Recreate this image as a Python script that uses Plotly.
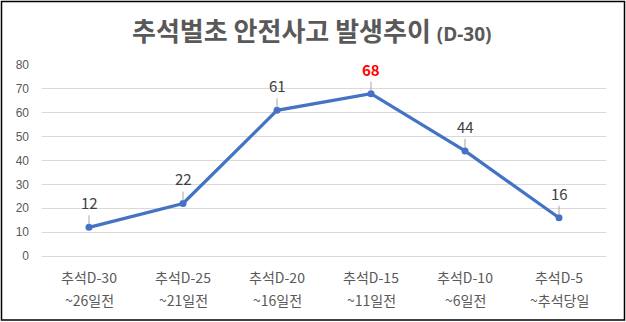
import plotly.graph_objects as go

# Chuseok grave-tending accident counts by 5-day period before the holiday
period_start = ["추석D-30", "추석D-25", "추석D-20", "추석D-15", "추석D-10", "추석D-5"]
period_end = ["~26일전", "~21일전", "~16일전", "~11일전", "~6일전", "~추석당일"]
accidents = [12, 22, 61, 68, 44, 16]
y_ticks = [0, 10, 20, 30, 40, 50, 60, 70, 80]

W, H = 626, 322
ML, MR, MT, MB = 42, 20, 65, 66
pw, ph = W - ML - MR, H - MT - MB

KFONT = "Noto Sans CJK KR, Malgun Gothic, sans-serif"
GREY = "#595959"
peak = max(accidents)
xs = list(range(len(accidents)))

fig = go.Figure()
fig.add_trace(go.Scatter(
    x=xs, y=accidents,
    mode="lines+markers",
    line=dict(color="#4472C4", width=3.2),
    marker=dict(color="#4472C4", size=7),
    hoverinfo="skip",
))

annotations = []
# value labels with short leader lines down to each point
for i, v in enumerate(accidents):
    is_peak = v == peak
    annotations.append(dict(
        x=i, y=v, xref="x", yref="y",
        text=f"<b>{v}</b>" if is_peak else str(v),
        showarrow=True, arrowhead=0, arrowwidth=1, arrowcolor="#a6a6a6",
        ax=0, ay=-12, standoff=3,
        yanchor="bottom",
        font=dict(family=KFONT, size=15, color="#FF0000" if is_peak else "#404040"),
    ))

# second line of each category label
for i, t in enumerate(period_end):
    annotations.append(dict(
        x=i, y=-(300 - (H - MB)) / ph, xref="x", yref="paper",
        text=t, showarrow=False, xanchor="center", yanchor="middle",
        font=dict(family=KFONT, size=14, color=GREY),
    ))

# chart title
annotations.append(dict(
    x=(312 - ML) / pw, y=(H - 30 - MB) / ph,
    xref="paper", yref="paper", showarrow=False,
    text="<b>추석벌초 안전사고 발생추이 <span style='font-size:19px;font-family:Open Sans'>(D-30)</span></b>",
    font=dict(family=KFONT, size=26, color=GREY),
    xanchor="center", yanchor="middle",
))

# outer frame
border = dict(
    type="rect", xref="paper", yref="paper",
    x0=(1.5 - ML) / pw, x1=(W - 1.5 - ML) / pw,
    y0=-(MB - 2) / ph, y1=(H - 1.5 - MB) / ph,
    line=dict(color="black", width=1.5), layer="above",
)

fig.update_layout(
    width=W, height=H,
    margin=dict(l=ML, r=MR, t=MT, b=MB),
    paper_bgcolor="white", plot_bgcolor="white",
    showlegend=False,
    annotations=annotations,
    shapes=[border],
    xaxis=dict(
        tickmode="array", tickvals=xs, ticktext=period_start,
        range=[-0.5, len(xs) - 0.5],
        showgrid=False, zeroline=False, showline=False, ticks="",
        ticklabelstandoff=12,
        tickfont=dict(family=KFONT, size=14, color=GREY),
        fixedrange=True,
    ),
    yaxis=dict(
        range=[0, 80], tickvals=y_ticks,
        showgrid=True, gridcolor="#d9d9d9", gridwidth=1,
        zeroline=True, zerolinecolor="#d9d9d9", zerolinewidth=1,
        showline=False, ticks="", ticklabelstandoff=12,
        tickfont=dict(family="Liberation Sans, Arial, sans-serif", size=12, color=GREY),
        fixedrange=True,
    ),
)

fig.write_html("out.html", config={"displayModeBar": False})
